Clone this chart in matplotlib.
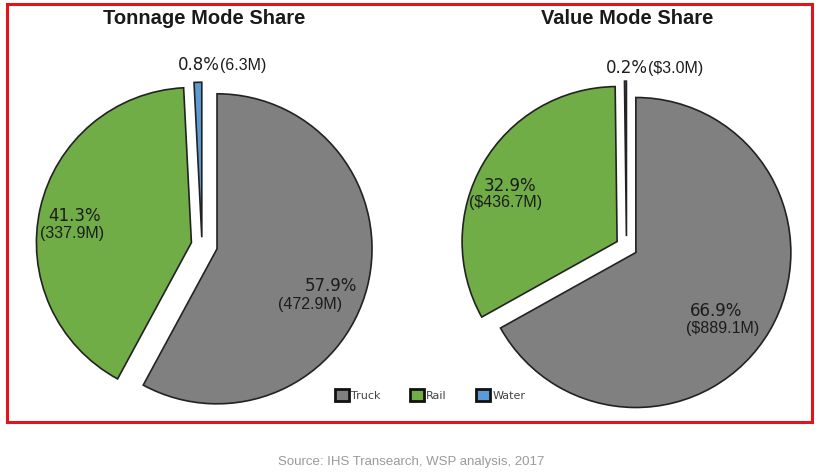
import matplotlib
matplotlib.use("Agg")
import matplotlib.pyplot as plt
from matplotlib.patches import Rectangle, Patch

# ---- data ----
categories = ["Truck", "Rail", "Water"]
tonnage_pct = [57.9, 41.3, 0.8]
tonnage_val = ["472.9", "337.9", "6.3"]
value_pct = [66.9, 32.9, 0.2]
value_val = ["889.1", "436.7", "3.0"]
titles = ["Tonnage Mode Share", "Value Mode Share"]
source = "Source: IHS Transearch, WSP analysis, 2017"

colors = ["#808080", "#70AD47", "#5B9BD5"]

W, H = 823, 474
fig = plt.figure(figsize=(W / 100, H / 100), dpi=100)
ax = fig.add_axes([0, 0, 1, 1])


def Y(y):
    return H - y


R = 155
wedge_kw = dict(edgecolor="#222222", linewidth=1.2)

# left pie (explode given as fraction of radius)
cL = (202, Y(245))
ax.pie(tonnage_pct, colors=colors, startangle=90, counterclock=False,
       explode=[f * R for f in (0.1, 0.07, 0.05)], center=cL, radius=R,
       frame=True, wedgeprops=wedge_kw)
# right pie
cR = (626.5, Y(247))
ax.pie(value_pct, colors=colors, startangle=90, counterclock=False,
       explode=[f * R for f in (0.07, 0.07, 0.07)], center=cR, radius=R,
       frame=True, wedgeprops=wedge_kw)

ax.set_xlim(0, W)
ax.set_ylim(0, H)
ax.set_aspect("equal")
ax.axis("off")

pct_kw = dict(family="DejaVu Sans", fontsize=12, color="#1c1c1c", va="center")
val_kw = dict(family="Liberation Sans", fontsize=11.5, color="#1c1c1c", va="center")


def put(c, off, s, kw, ha="center"):
    ax.text(c[0] + off[0], c[1] - off[1], s, ha=ha, **kw)


# left labels (offsets in px from pie center: right, down)
left_pct_off = [(129, 41), (-127, -29)]
left_val_off = [(108, 60), (-130, -12)]
for i in range(2):
    put(cL, left_pct_off[i], f"{tonnage_pct[i]}%", pct_kw)
    put(cL, left_val_off[i], f"({tonnage_val[i]}M)", val_kw)
put(cL, (18, -180), f"{tonnage_pct[2]}%", pct_kw, ha="right")
put(cL, (18, -180), f"({tonnage_val[2]}M)", val_kw, ha="left")

# right labels
right_pct_off = [(89.5, 64), (-116.5, -61)]
right_val_off = [(96.5, 81), (-120.5, -45)]
for i in range(2):
    put(cR, right_pct_off[i], f"{value_pct[i]}%", pct_kw)
    put(cR, right_val_off[i], f"(${value_val[i]}M)", val_kw)
put(cR, (21.5, -179), f"{value_pct[2]}%", pct_kw, ha="right")
put(cR, (21.5, -179), f"(${value_val[2]}M)", val_kw, ha="left")

# titles
ax.text(cL[0] + 2, Y(18), titles[0], ha="center", va="center",
        family="Liberation Sans", fontsize=14.5, weight="bold", color="#1a1a1a")
ax.text(cR[0] + 1, Y(18), titles[1], ha="center", va="center",
        family="Liberation Sans", fontsize=14.5, weight="bold", color="#1a1a1a")

# red border
ax.add_patch(Rectangle((7, Y(422)), 805, 418, fill=False,
                       edgecolor="#e0141b", linewidth=2.2, zorder=5))

# legend
handles = [Patch(facecolor=c, edgecolor="#111111", linewidth=2) for c in colors]
fig.legend(handles, categories, loc="center", bbox_to_anchor=(430 / W, 1 - 395 / H),
           ncol=3, frameon=False, fontsize=8, labelcolor="#444444",
           handlelength=1.3, handleheight=1.3, handletextpad=0.2,
           columnspacing=2.6)

# source
ax.text(411, Y(462), source, ha="center", va="center",
        family="Liberation Sans", fontsize=9.5, color="#9a9a9a")

fig.savefig("out.png", dpi=100)
